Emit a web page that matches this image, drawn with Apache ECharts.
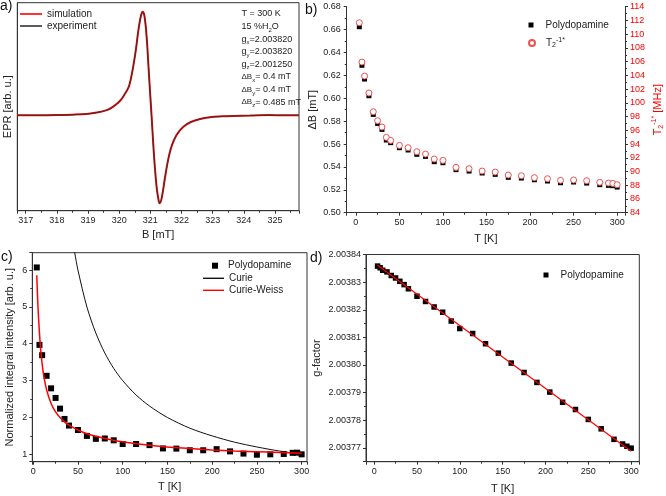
<!DOCTYPE html>
<html><head><meta charset="utf-8">
<script src="https://cdn.jsdelivr.net/npm/echarts@6/dist/echarts.min.js"></script>
<style>html,body{margin:0;padding:0;background:#fff}#c{width:666px;height:496px}</style>
</head><body><div id="c"></div>
<script>
// ---- panel a: EPR spectrum ----
const eprField = [316.73, 317.5, 318.0, 318.5, 318.96, 319.28, 319.6, 319.81, 320.03, 320.19, 320.30, 320.35, 320.40, 320.45, 320.51, 320.56, 320.61, 320.69, 320.75, 320.81, 320.88, 320.96, 321.04, 321.12, 321.20, 321.27, 321.30, 321.37, 321.46, 321.57, 321.68, 321.84, 322.06, 322.3, 322.6, 322.91, 323.3, 323.66, 324.2, 324.8, 325.3, 325.77];
const eprSimulation = [0, 0, 0.002, 0.006, 0.013, 0.026, 0.05, 0.084, 0.14, 0.21, 0.27, 0.32, 0.39, 0.47, 0.58, 0.69, 0.81, 0.95, 1.0, 0.96, 0.76, 0.37, -0.01, -0.40, -0.69, -0.83, -0.85, -0.79, -0.62, -0.43, -0.30, -0.19, -0.11, -0.065, -0.035, -0.018, -0.01, -0.006, -0.003, 0.002, 0.0, 0];
const eprExperiment = [0, 0, 0.002, 0.006, 0.013, 0.026, 0.05, 0.084, 0.14, 0.21, 0.27, 0.32, 0.39, 0.47, 0.58, 0.69, 0.81, 0.95, 1.0, 0.96, 0.76, 0.37, -0.01, -0.40, -0.69, -0.83, -0.85, -0.79, -0.62, -0.43, -0.30, -0.19, -0.11, -0.065, -0.035, -0.018, -0.01, -0.006, -0.003, -0.001, 0.0, 0];

// ---- temperatures shared by b, c, d ----
const temps = [4, 7, 10, 15, 20, 25, 30, 35, 40, 50, 60, 70, 80, 90, 100, 115, 130, 145, 160, 175, 190, 205, 220, 235, 250, 265, 280, 290, 295, 300];
// panel b
const deltaB = [0.6625, 0.6288, 0.6168, 0.6022, 0.5859, 0.578, 0.5728, 0.5635, 0.5612, 0.5568, 0.5548, 0.551, 0.5492, 0.5446, 0.5437, 0.5376, 0.5364, 0.5347, 0.5335, 0.5309, 0.5303, 0.5288, 0.5277, 0.5262, 0.5268, 0.5259, 0.5245, 0.5239, 0.5236, 0.5224];
const t2inv = [111.67, 105.94, 103.9, 101.43, 98.71, 97.4, 96.48, 94.97, 94.53, 93.8, 93.47, 92.88, 92.54, 91.82, 91.62, 90.6, 90.41, 90.07, 89.92, 89.49, 89.39, 89.1, 88.95, 88.71, 88.76, 88.66, 88.42, 88.32, 88.27, 88.08];
// panel c
const intensity = [6.07, 3.97, 3.69, 3.13, 2.79, 2.53, 2.24, 1.96, 1.78, 1.66, 1.50, 1.42, 1.43, 1.38, 1.28, 1.28, 1.25, 1.16, 1.155, 1.11, 1.11, 1.14, 1.08, 1.02, 0.99, 1.0, 1.01, 1.04, 1.045, 1.0];
const curieT = [44, 46.4, 50, 60, 70, 80, 90, 100, 115, 130, 150, 175, 200, 225, 250, 275, 300];
const curieI = [6.82, 6.47, 6.0, 5.0, 4.29, 3.75, 3.33, 3.0, 2.61, 2.31, 2.0, 1.71, 1.5, 1.33, 1.2, 1.09, 1.0];
const cwT = [4, 5, 6, 8, 10, 12, 15, 20, 25, 30, 35, 40, 50, 60, 70, 80, 100, 125, 150, 175, 200, 225, 250, 275, 300];
const cwI = [5.86, 5.2, 4.7, 3.95, 3.45, 3.1, 2.75, 2.38, 2.15, 2.0, 1.88, 1.79, 1.66, 1.56, 1.49, 1.43, 1.34, 1.26, 1.2, 1.16, 1.12, 1.09, 1.07, 1.05, 1.03];
// panel d
const gFactor = [2.0038358, 2.0038352, 2.0038343, 2.0038337, 2.0038324, 2.0038315, 2.0038303, 2.0038291, 2.0038276, 2.0038249, 2.0038230, 2.0038210, 2.0038191, 2.0038159, 2.0038132, 2.0038114, 2.0038077, 2.0038043, 2.0038007, 2.0037973, 2.0037937, 2.0037902, 2.0037865, 2.0037839, 2.0037803, 2.0037769, 2.0037731, 2.0037714, 2.0037706, 2.0037699];
const fitT = [4, 300];
const fitG = [2.0038361, 2.0037688];

const FONT = 'Liberation Sans, Arial, sans-serif';
const zip = (a, b) => a.map((v, i) => [v, b[i]]);
const onStep = (step, fmt) => v => {
  const k = v / step;
  return Math.abs(k - Math.round(k)) < 1e-4 ? fmt(v) : '';
};
const AX = '#333';
function axis(extra) {
  return Object.assign({
    type: 'value',
    axisLine: { show: true, onZero: false, lineStyle: { color: AX, width: 1 } },
    axisTick: { show: true, inside: false, length: 3, lineStyle: { color: AX } },
    minorTick: { show: true, splitNumber: 2, length: 2, lineStyle: { color: AX } },
    splitLine: { show: false },
    axisLabel: { fontSize: 9, color: '#222', fontFamily: FONT, margin: 5, showMinLabel: true, showMaxLabel: true },
    nameLocation: 'middle',
    nameTextStyle: { fontSize: 11, color: '#222', fontFamily: FONT }
  }, extra);
}
function deepAxis(extra, label) {
  const a = axis(extra);
  if (label) a.axisLabel = Object.assign({}, a.axisLabel, label);
  return a;
}
const tFmt = onStep(50, v => String(Math.round(v)));

const subRich = {
  b: { fontSize: 10, lineHeight: 12, fontFamily: FONT, color: '#222' },
  sub: { fontSize: 7, lineHeight: 6, verticalAlign: 'bottom', fontFamily: FONT, color: '#222' },
  sup: { fontSize: 7, lineHeight: 6, verticalAlign: 'top', fontFamily: FONT, color: '#222' }
};
const redRich = {
  b: { fontSize: 11, lineHeight: 14, fontFamily: FONT, color: '#f00' },
  sub: { fontSize: 7, lineHeight: 6, verticalAlign: 'bottom', fontFamily: FONT, color: '#f00' },
  sup: { fontSize: 7, lineHeight: 6, verticalAlign: 'top', fontFamily: FONT, color: '#f00' }
};

const annotRich = {
  n: { fontSize: 9, lineHeight: 12.6, fontFamily: FONT, color: '#222' },
  d: { fontSize: 8, lineHeight: 12.6, fontFamily: FONT, color: '#222' },
  s: { fontSize: 6, lineHeight: 5, verticalAlign: 'bottom', fontFamily: FONT, color: '#222' }
};
const annotText = [
  '{n|T = 300 K}',
  '{n|15 %H}{s|2}{n|O}',
  '{n|g}{s|x}{n|=2.003820}',
  '{n|g}{s|y}{n|=2.003820}',
  '{n|g}{s|z}{n|=2.001250}',
  '{d|ΔB}{s|x}{n|= 0.4 mT}',
  '{d|ΔB}{s|y}{n|= 0.4 mT}',
  '{d|ΔB}{s|z}{n|= 0.485 mT}'
].join('\n');

const legTxt = { fontSize: 10, lineHeight: 12, color: '#222', fontFamily: FONT };
const chart = echarts.init(document.getElementById('c'), null, { renderer: 'canvas' });
const option = {
  animation: false,
  backgroundColor: '#fff',
  textStyle: { fontFamily: FONT },
  grid: [
    { left: 17.3, top: 2.7, width: 281.7, height: 208, show: true, borderColor: AX, borderWidth: 1 },
    { left: 346.7, top: 6.7, width: 280.3, height: 206 },
    { left: 32.3, top: 252.7, width: 274.7, height: 209, show: true, borderColor: AX, borderWidth: 1 },
    { left: 366, top: 254.5, width: 273.3, height: 207.2, show: true, borderColor: AX, borderWidth: 1 }
  ],
  xAxis: [
    deepAxis({ gridIndex: 0, min: 316.73, max: 325.77, splitNumber: 9, name: 'B [mT]', nameGap: 19 },
      { formatter: onStep(1, v => String(Math.round(v))) }),
    deepAxis({ gridIndex: 1, min: -10.5, max: 309, splitNumber: 6, name: 'T [K]', nameGap: 21 }, { formatter: tFmt }),
    deepAxis({ gridIndex: 2, min: -1, max: 306, splitNumber: 6, name: 'T [K]', nameGap: 20 }, { formatter: tFmt }),
    deepAxis({ gridIndex: 3, min: -9.5, max: 309.5, splitNumber: 6, name: 'T [K]', nameGap: 22 }, { formatter: tFmt })
  ],
  yAxis: [
    deepAxis({ gridIndex: 0, min: -0.921, max: 1.087, name: 'EPR [arb. u.]', nameGap: 4,
      axisTick: { show: false }, minorTick: { show: false } }, { show: false }),
    deepAxis({ gridIndex: 1, min: 0.5, max: 0.68, interval: 0.02, name: 'ΔB [mT]', nameGap: 28 },
      { formatter: v => v.toFixed(2), margin: 6 }),
    deepAxis({ gridIndex: 1, position: 'right', min: 84, max: 114, interval: 2,
      name: '{b|T}{sub|2}{sup|-1*}{b| [MHz]}', nameGap: 26, nameTextStyle: { rich: redRich, color: '#f00', fontSize: 11 } },
      { color: '#f00', margin: 5 }),
    deepAxis({ gridIndex: 2, min: 0.8, max: 6.47, splitNumber: 6, name: 'Normalized integral intensity [arb. u.]', nameGap: 17 },
      { formatter: onStep(1, v => String(Math.round(v))), margin: 5 }),
    deepAxis({ gridIndex: 3, min: 2.003765, max: 2.00384, splitNumber: 7, name: 'g-factor', nameGap: 44 },
      { formatter: v => { const k = (v - 2.0037) * 1e5; return Math.abs(k - Math.round(k)) < 1e-3 ? v.toFixed(5) : ''; }, margin: 5 })
  ],
  legend: [
    { data: [{ name: 'simulation', icon: 'rect' }, { name: 'experiment', icon: 'rect' }], orient: 'vertical', padding: 0,
      left: 20, top: 8, itemWidth: 22, itemHeight: 1.6, itemGap: 0, textStyle: legTxt },
    { data: [{ name: 'Polydopamine', icon: 'rect' }], orient: 'vertical', padding: 0, left: 528.5, top: 19, itemWidth: 5, itemHeight: 5,
      textStyle: Object.assign({}, legTxt, { padding: [0, 0, 0, 7] }) },
    { data: [{ name: 'T2inv', icon: 'circle' }], orient: 'vertical', padding: 0, left: 528, top: 37, itemWidth: 6, itemHeight: 6,
      formatter: () => '{b|T}{sub|2}{sup|-1*}',
      textStyle: Object.assign({}, legTxt, { padding: [0, 0, 0, 6], rich: subRich }) },
    { data: [{ name: 'Polydopamine', icon: 'rect' }], orient: 'vertical', padding: 0, left: 212, top: 259.7, itemWidth: 6, itemHeight: 6,
      textStyle: Object.assign({}, legTxt, { padding: [0, 0, 0, 5] }) },
    { data: [{ name: 'Curie', icon: 'rect' }, { name: 'Curie-Weiss', icon: 'rect' }], orient: 'vertical', padding: 0,
      left: 203, top: 272.3, itemWidth: 21, itemHeight: 1.4, itemGap: 0, textStyle: legTxt },
    { data: [{ name: 'Polydopamine', icon: 'rect' }], orient: 'vertical', padding: 0, left: 543.5, top: 269, itemWidth: 5, itemHeight: 5,
      textStyle: Object.assign({}, legTxt, { padding: [0, 0, 0, 7] }) }
  ],
  graphic: [
    { type: 'text', x: 241.5, y: 7.7, style: { text: annotText, rich: annotRich, fill: '#222' } },
    { type: 'text', x: 0, y: -1, style: { text: 'a)', font: '14px ' + FONT, fill: '#111' } },
    { type: 'text', x: 305, y: 3, style: { text: 'b)', font: '14px ' + FONT, fill: '#111' } },
    { type: 'text', x: 1, y: 250, style: { text: 'c)', font: '14px ' + FONT, fill: '#111' } },
    { type: 'text', x: 310, y: 251, style: { text: 'd)', font: '14px ' + FONT, fill: '#111' } }
  ],
  series: [
    { name: 'simulation', type: 'line', xAxisIndex: 0, yAxisIndex: 0, data: zip(eprField, eprSimulation),
      symbol: 'none', smooth: 0.35, lineStyle: { color: '#f00', width: 2 }, itemStyle: { color: '#f00' } },
    { name: 'experiment', type: 'line', xAxisIndex: 0, yAxisIndex: 0, data: zip(eprField, eprExperiment),
      symbol: 'none', smooth: 0.35, lineStyle: { color: '#333', width: 1 }, itemStyle: { color: '#333' } },

    { name: 'Polydopamine', type: 'scatter', xAxisIndex: 1, yAxisIndex: 1, data: zip(temps, deltaB),
      symbol: 'rect', symbolSize: 5, itemStyle: { color: '#000', opacity: 1 } },
    { name: 'T2inv', type: 'scatter', xAxisIndex: 1, yAxisIndex: 2, data: zip(temps, t2inv),
      symbol: 'circle', symbolSize: 6, itemStyle: { color: '#fff', borderColor: '#f05050', borderWidth: 1, opacity: 1 } },

    { name: 'Polydopamine', type: 'scatter', xAxisIndex: 2, yAxisIndex: 3, data: zip(temps, intensity),
      symbol: 'rect', symbolSize: 6, itemStyle: { color: '#000', opacity: 1 } },
    { name: 'Curie', type: 'line', xAxisIndex: 2, yAxisIndex: 3, data: zip(curieT, curieI),
      symbol: 'none', smooth: 0.3, lineStyle: { color: '#111', width: 1 }, itemStyle: { color: '#111' } },
    { name: 'Curie-Weiss', type: 'line', xAxisIndex: 2, yAxisIndex: 3, data: zip(cwT, cwI),
      symbol: 'none', smooth: 0.3, lineStyle: { color: '#f00', width: 1.5 }, itemStyle: { color: '#f00' } },

    { name: 'Polydopamine', type: 'scatter', xAxisIndex: 3, yAxisIndex: 4, data: zip(temps, gFactor),
      symbol: 'rect', symbolSize: 5.5, itemStyle: { color: '#000', opacity: 1 } },
    { name: 'fit', type: 'line', xAxisIndex: 3, yAxisIndex: 4, data: zip(fitT, fitG),
      symbol: 'none', lineStyle: { color: '#f00', width: 1.2 }, itemStyle: { color: '#f00' } }
  ]
};
chart.setOption(option);
</script>
</body></html>
